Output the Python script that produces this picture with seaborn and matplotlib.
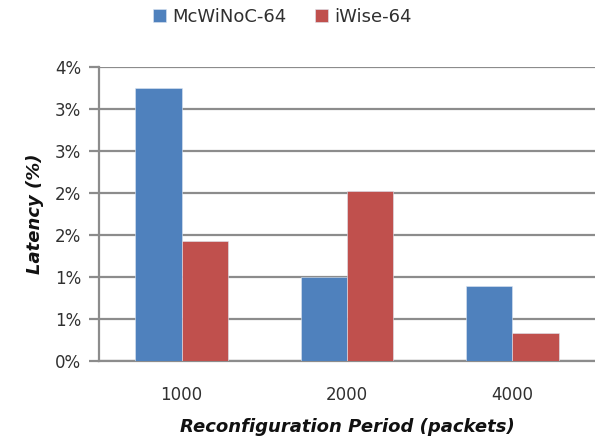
import matplotlib
matplotlib.use("Agg")
import matplotlib.pyplot as plt
import seaborn as sns
import pandas as pd

categories = ["1000", "2000", "4000"]
mcwinoc = [3.25, 1.00, 0.89]
iwise = [1.43, 2.02, 0.33]
series_names = ["McWiNoC-64", "iWise-64"]
ytick_values = [0, 0.5, 1.0, 1.5, 2.0, 2.5, 3.0, 3.5]
ytick_labels = ["0%", "1%", "1%", "2%", "2%", "3%", "3%", "4%"]

df = pd.DataFrame({
    "period": categories * 2,
    "latency": mcwinoc + iwise,
    "series": [series_names[0]] * 3 + [series_names[1]] * 3,
})

sns.set_theme(style="white")
plt.rcParams["font.family"] = ["DejaVu Sans"]

fig = plt.figure(figsize=(5.95, 4.42), dpi=100)
ax = fig.add_axes([0.1664, 0.1833, 0.8336, 0.6651])

grid_c = "#8c8c8c"
sns.barplot(data=df, x="period", y="latency", hue="series",
            palette=["#4F81BD", "#C0504D"], saturation=1, width=0.56, gap=0,
            edgecolor="#dce6f2", linewidth=0.4, ax=ax, zorder=3)

ax.set_ylim(0, 3.5)
ax.set_xlim(-0.5, 2.5)
ax.set_yticks(ytick_values)
ax.set_yticklabels(ytick_labels)
ax.yaxis.grid(True, color=grid_c, linewidth=1.6, zorder=0)
ax.set_axisbelow(True)
for s in ["top", "right"]:
    ax.spines[s].set_visible(False)
for s in ["left", "bottom"]:
    ax.spines[s].set_color(grid_c)
    ax.spines[s].set_linewidth(1.6)
ax.tick_params(axis="y", which="major", left=True, length=7, width=1.6,
               color=grid_c, labelsize=12, labelcolor="#303030", pad=6)
ax.tick_params(axis="x", bottom=False, labelsize=12, labelcolor="#303030", pad=12)

ax.set_xlabel("Reconfiguration Period (packets)", fontsize=13,
              fontweight="bold", fontstyle="italic", color="#111111", labelpad=10)
ax.set_ylabel("Latency (%)", fontsize=13, fontweight="bold",
              fontstyle="italic", color="#111111", labelpad=8)

leg = ax.legend(loc="center", bbox_to_anchor=(0.37, 1.17), ncol=2,
                frameon=False, fontsize=13, handlelength=0.7, handleheight=0.7,
                handletextpad=0.35, columnspacing=1.6)
for t in leg.get_texts():
    t.set_color("#303030")

fig.savefig("out.png", dpi=100)
